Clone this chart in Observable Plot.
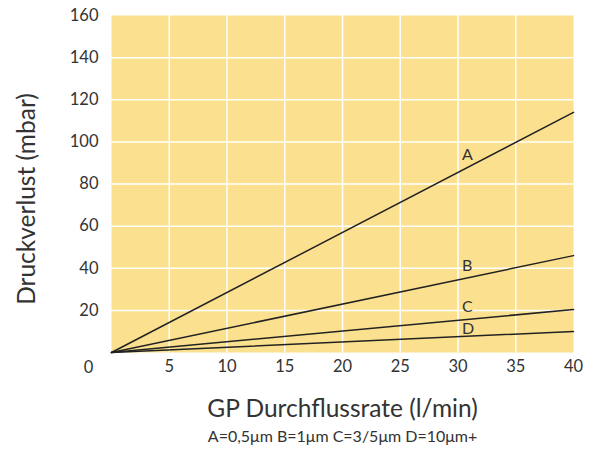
<!DOCTYPE html>
<html>
<head>
<meta charset="utf-8">
<script src="https://cdn.jsdelivr.net/npm/d3@7"></script>
<script src="https://cdn.jsdelivr.net/npm/@observablehq/plot@0.6"></script>
<style>
  html, body { margin: 0; padding: 0; background: #fff; }
  svg { display: block; }
</style>
</head>
<body>
<div id="chart"></div>
<script>
// Data: pressure loss (mbar) vs flow rate (l/min), linear from origin
const series = ["A", "B", "C", "D"];
const flowStart = 0;
const flowEnd = 40;
const lossAtEnd = [114, 46, 20.4, 10];     // value at 40 l/min
const labelFlow = 30;
const labelLoss = [94, 41, 21.5, 11];       // label positions (value units)
const xTicks = [5, 10, 15, 20, 25, 30, 35, 40];
const yTicks = [20, 40, 60, 80, 100, 120, 140, 160];
const xGrid = [5, 10, 15, 20, 25, 30, 35];
const yGrid = [20, 40, 60, 80, 100, 120, 140];

const lines = series.flatMap((s, i) => [
  {s, x: flowStart, y: 0},
  {s, x: flowEnd, y: lossAtEnd[i]}
]);
const labels = series.map((s, i) => ({s, x: labelFlow, y: labelLoss[i]}));

const textColor = "#333";
const font = "Lato, 'Open Sans', sans-serif";

const chart = Plot.plot({
  width: 593,
  height: 450,
  marginLeft: 111,
  marginRight: 20,
  marginTop: 15,
  marginBottom: 98,
  style: {fontFamily: font, fontSize: "16px", color: textColor, background: "#fff"},
  x: {domain: [0, 40]},
  y: {domain: [0, 160]},
  marks: [
    Plot.frame({fill: "#FBE18F", stroke: null}),
    Plot.ruleX(xGrid, {stroke: "#fff", strokeWidth: 1.5}),
    Plot.ruleY(yGrid, {stroke: "#fff", strokeWidth: 1.5}),
    Plot.axisX({ticks: xTicks, tickSize: 0, tickPadding: 8, label: null, fontSize: 16.5, fill: textColor}),
    Plot.axisY({ticks: yTicks, tickSize: 0, tickPadding: 13, label: null, fontSize: 16.5, fill: textColor}),
    Plot.text(["0"], {x: 0, y: 0, dx: -23, dy: 15, fontSize: 16.5, fill: textColor}),
    Plot.line(lines, {x: "x", y: "y", z: "s", stroke: "#222", strokeWidth: 1.5}),
    Plot.text(labels, {x: "x", y: "y", text: "s", textAnchor: "start", dx: 4, fontSize: 16, fill: textColor}),
    Plot.text(["GP Durchflussrate (l/min)"], {frameAnchor: "bottom", lineAnchor: "middle", dy: 57, fontSize: 24.5, fill: textColor}),
    Plot.text(["A=0,5μm B=1μm C=3/5μm D=10μm+"], {frameAnchor: "bottom", lineAnchor: "middle", dy: 84, fontSize: 16, fill: textColor}),
    Plot.text(["Druckverlust (mbar)"], {frameAnchor: "left", textAnchor: "middle", lineAnchor: "middle", dx: -84, dy: 15, rotate: -90, fontSize: 24.5, fill: textColor})
  ]
});
document.getElementById("chart").appendChild(chart);
</script>
</body>
</html>
